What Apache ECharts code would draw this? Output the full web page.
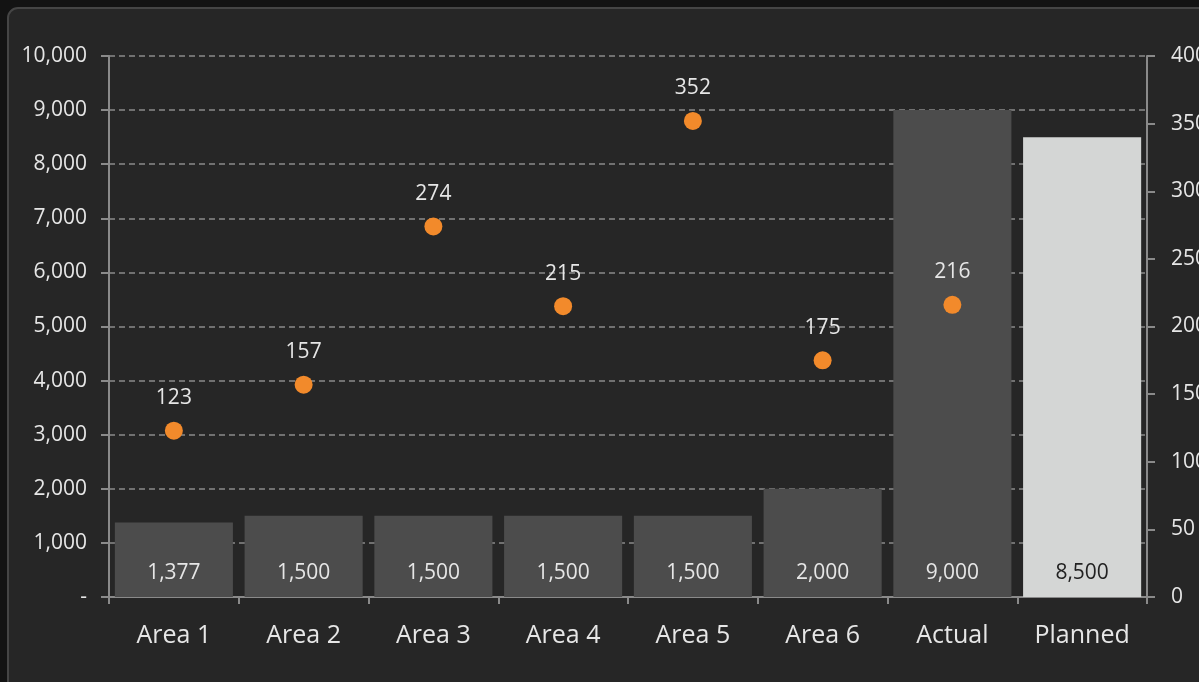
<!DOCTYPE html>
<html style="height: 100%">

<head>
  <meta charset="utf-8">
  <title>Area volumes</title>
</head>

<body style="height: 100%; margin: 0; background: #131313">
  <div id="container" style="width: 1199px; height: 682px"></div>
  <script type="text/javascript" src="https://cdn.jsdelivr.net/npm/echarts@6/dist/echarts.min.js"></script>
  <script type="text/javascript">
    var categories = ['Area 1', 'Area 2', 'Area 3', 'Area 4', 'Area 5', 'Area 6', 'Actual', 'Planned'];
    var barValues = [1377, 1500, 1500, 1500, 1500, 2000, 9000, 8500];
    var dotValues = [123, 157, 274, 215, 352, 175, 216, null];

    var font = '"Open Sans", "Noto Sans", sans-serif';
    var axisColor = '#8a8a8a';

    var dom = document.getElementById("container");
    var myChart = echarts.init(dom);

    var fmt = function (v) {
      if (v === 0) return '-';
      return v.toString().replace(/\B(?=(\d{3})+(?!\d))/g, ',');
    };

    var option = {
      backgroundColor: '#131313',
      textStyle: { fontFamily: font },
      graphic: [{
        type: 'rect',
        left: 7,
        top: 7,
        shape: { width: 1240, height: 720, r: 10 },
        style: { fill: '#262626', stroke: '#454545', lineWidth: 2 },
        z: -10
      }],
      grid: {
        left: 109,
        right: 52,
        top: 56,
        bottom: 85,
        containLabel: false,
        outerBoundsMode: 'none'
      },
      xAxis: {
        type: 'category',
        data: categories,
        axisLine: { lineStyle: { color: axisColor, width: 2 } },
        axisTick: { show: true, length: 7, lineStyle: { color: axisColor, width: 2 } },
        axisLabel: { color: '#e6e6e6', fontSize: 25, margin: 26, fontFamily: font }
      },
      yAxis: [{
        type: 'value',
        min: 0,
        max: 10000,
        interval: 1000,
        axisLine: { show: true, lineStyle: { color: axisColor, width: 2 } },
        axisTick: { show: true, length: 8, lineStyle: { color: axisColor, width: 2 } },
        axisLabel: { color: '#e6e6e6', fontSize: 21, margin: 22, formatter: fmt, fontFamily: font },
        splitLine: { show: true, lineStyle: { color: axisColor, type: [6, 4], width: 1.5 } }
      }, {
        type: 'value',
        min: 0,
        max: 400,
        interval: 50,
        position: 'right',
        axisLine: { show: true, lineStyle: { color: axisColor, width: 2 } },
        axisTick: { show: true, length: 8, lineStyle: { color: axisColor, width: 2 } },
        axisLabel: { color: '#e6e6e6', fontSize: 21, margin: 24, fontFamily: font },
        splitLine: { show: false }
      }],
      series: [{
        type: 'bar',
        data: barValues.map(function (v, i) {
          var planned = categories[i] === 'Planned';
          return {
            value: v,
            itemStyle: { color: planned ? '#d4d6d5' : '#4c4c4c' },
            label: { color: planned ? '#222222' : '#e6e6e6' }
          };
        }),
        barCategoryGap: '9%',
        label: {
          show: true,
          position: 'insideBottom',
          distance: 13,
          fontSize: 21,
          fontFamily: font,
          formatter: function (p) { return fmt(p.value); }
        },
        z: 2
      }, {
        type: 'scatter',
        yAxisIndex: 1,
        data: dotValues,
        symbolSize: 18,
        itemStyle: { color: '#f28a2b', opacity: 1 },
        label: {
          show: true,
          position: 'top',
          distance: 13,
          color: '#e6e6e6',
          fontSize: 21,
          fontFamily: font
        },
        z: 3
      }]
    };

    if (option && typeof option === "object") {
      myChart.setOption(option, true);
    }
  </script>
</body>

</html>
